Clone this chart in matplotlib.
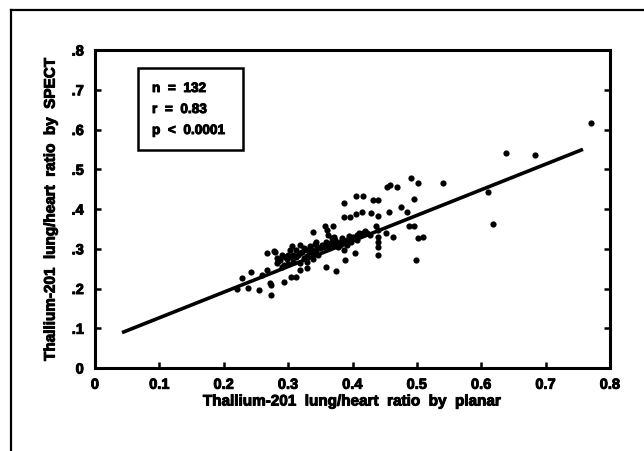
import matplotlib
matplotlib.use("Agg")
import matplotlib.pyplot as plt
from matplotlib.lines import Line2D
from matplotlib.patches import Rectangle
import matplotlib.patheffects as pe

# ---- data ----
planar = [
    0.770, 0.639, 0.683, 0.610, 0.618, 0.540, 0.491, 0.502, 0.495, 0.484,
    0.476, 0.453, 0.458, 0.469, 0.456, 0.406, 0.416, 0.432, 0.440, 0.387,
    0.387, 0.396, 0.405, 0.414, 0.429, 0.440, 0.488, 0.495, 0.501, 0.509,
    0.498, 0.452, 0.463, 0.440, 0.440, 0.440, 0.440, 0.439, 0.404, 0.387,
    0.388, 0.375, 0.359, 0.338, 0.357, 0.369, 0.360, 0.359, 0.344, 0.318,
    0.306, 0.278, 0.267, 0.329, 0.318, 0.304, 0.313, 0.293, 0.267, 0.259,
    0.272, 0.274, 0.274, 0.255, 0.242, 0.229, 0.237, 0.220, 0.437,
    0.282, 0.287, 0.295, 0.300, 0.308, 0.313, 0.318, 0.324, 0.329, 0.334,
    0.339, 0.344, 0.350, 0.355, 0.362, 0.370, 0.375, 0.381, 0.386, 0.391,
    0.396, 0.401, 0.407, 0.412, 0.417, 0.422, 0.427, 0.293, 0.300, 0.308,
    0.318, 0.329, 0.339, 0.347, 0.290, 0.282, 0.362, 0.368, 0.373, 0.380,
    0.391, 0.398, 0.407, 0.280, 0.290, 0.303, 0.313, 0.324, 0.334, 0.342,
    0.285, 0.298, 0.305, 0.315, 0.322, 0.330, 0.336, 0.345, 0.352, 0.365,
    0.372, 0.378, 0.384, 0.395, 0.410, 0.420,
]
spect = [
    0.617, 0.541, 0.536, 0.443, 0.363, 0.465, 0.477, 0.465, 0.424, 0.393,
    0.406, 0.456, 0.460, 0.455, 0.393, 0.433, 0.433, 0.423, 0.423, 0.416,
    0.381, 0.381, 0.387, 0.392, 0.389, 0.382, 0.356, 0.356, 0.326, 0.330,
    0.272, 0.339, 0.330, 0.347, 0.330, 0.318, 0.305, 0.284, 0.290, 0.297,
    0.272, 0.244, 0.255, 0.341, 0.356, 0.356, 0.347, 0.318, 0.318, 0.309,
    0.308, 0.294, 0.289, 0.251, 0.247, 0.228, 0.230, 0.217, 0.247, 0.234,
    0.213, 0.209, 0.184, 0.195, 0.242, 0.226, 0.202, 0.200, 0.357,
    0.276, 0.272, 0.278, 0.284, 0.284, 0.278, 0.289, 0.276, 0.282, 0.293,
    0.289, 0.297, 0.301, 0.305, 0.307, 0.309, 0.315, 0.318, 0.315, 0.322,
    0.326, 0.330, 0.335, 0.337, 0.339, 0.339, 0.335, 0.259, 0.262, 0.267,
    0.263, 0.267, 0.273, 0.284, 0.255, 0.263, 0.335, 0.326, 0.322, 0.309,
    0.309, 0.318, 0.322, 0.293, 0.284, 0.297, 0.297, 0.301, 0.307, 0.312,
    0.270, 0.275, 0.280, 0.285, 0.292, 0.298, 0.300, 0.305, 0.310, 0.315,
    0.330, 0.305, 0.328, 0.333, 0.340, 0.345,
]
fit_slope = 0.644
fit_intercept = 0.062
fit_x = [0.042, 0.758]

x_ticks = [0, 0.1, 0.2, 0.3, 0.4, 0.5, 0.6, 0.7, 0.8]
x_ticklabels = ["0", "0.1", "0.2", "0.3", "0.4", "0.5", "0.6", "0.7", "0.8"]
y_ticks = [0, 0.1, 0.2, 0.3, 0.4, 0.5, 0.6, 0.7, 0.8]
y_ticklabels = ["0", ".1", ".2", ".3", ".4", ".5", ".6", ".7", ".8"]
stats_lines = ["n  =  132", "r  =  0.83", "p  <  0.0001"]
x_label = "Thallium-201  lung/heart  ratio  by  planar"
y_label = "Thallium-201  lung/heart  ratio  by  SPECT"

# ---- figure ----
plt.rcParams['font.family'] = ['Liberation Sans', 'DejaVu Sans']
plt.rcParams['font.weight'] = 'bold'
heavy = [pe.withStroke(linewidth=0.7, foreground='black')]

W, H = 644, 451
fig = plt.figure(figsize=(W / 100, H / 100), dpi=100)
ax = fig.add_axes([95 / W, 1 - 368 / H, (610 - 95) / W, (368 - 50) / H])

ax.scatter(planar, spect, s=20, color='black', linewidths=0, zorder=3)
fit_y = [fit_intercept + fit_slope * v for v in fit_x]
ax.plot(fit_x, fit_y, color='black', lw=2.6, solid_capstyle='butt', zorder=4)

ax.set_xlim(0, 0.8)
ax.set_ylim(0, 0.8)
ax.set_xticks(x_ticks)
ax.set_xticklabels(x_ticklabels)
ax.set_yticks(y_ticks)
ax.set_yticklabels(y_ticklabels)
ax.tick_params(axis='both', direction='in', length=4, width=1.8,
               labelsize=10.5, right=True, top=False)
ax.tick_params(axis='x', pad=7)
ax.tick_params(axis='y', pad=8)
for lab in ax.get_xticklabels() + ax.get_yticklabels():
    lab.set_fontweight('bold')
    lab.set_path_effects(heavy)
for sp in ax.spines.values():
    sp.set_linewidth(2.2)

xl = ax.set_xlabel(x_label, fontsize=11, fontweight='bold', labelpad=2)
yl = ax.set_ylabel(y_label, fontsize=11, fontweight='bold', labelpad=10)
xl.set_path_effects(heavy)
yl.set_path_effects(heavy)

# stats box
box = Rectangle((138 / W, 1 - 150 / H), (243 - 138) / W, (150 - 68) / H,
                transform=fig.transFigure, fill=False, lw=1.8, color='black')
fig.add_artist(box)
for i, t in enumerate(stats_lines):
    txt = fig.text(152 / W, 1 - (88 + 21 * i) / H, t, fontsize=9.8,
                   fontweight='bold', va='center', ha='left')
    txt.set_path_effects(heavy)

# outer frame (top and left edges visible)
fig.add_artist(Line2D([11 / W, 1.0], [1 - 10 / H, 1 - 10 / H],
                      transform=fig.transFigure, color='black', lw=1.6))
fig.add_artist(Line2D([11 / W, 11 / W], [0.0, 1 - 10 / H],
                      transform=fig.transFigure, color='black', lw=1.6))

fig.savefig("out.png", dpi=100)
